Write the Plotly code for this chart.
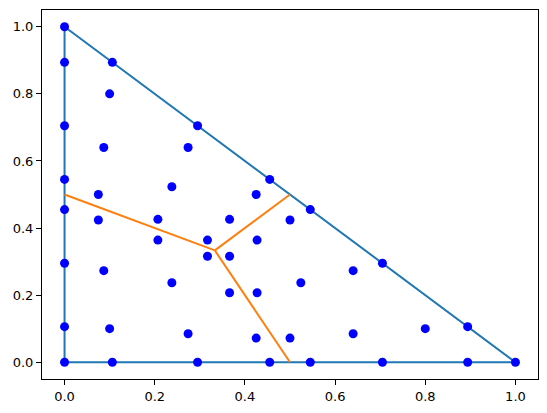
import plotly.graph_objects as go

# Triangle outline
tri_x = [0.0, 1.0, 0.0, 0.0]
tri_y = [0.0, 0.0, 1.0, 0.0]

# Orange partition lines (None separates segments)
part_x = [0.0, 0.3333, None, 0.3333, 0.5, None, 0.3333, 0.5]
part_y = [0.5, 0.3333, None, 0.3333, 0.5, None, 0.3333, 0.0]

# Nodes
pts_x = [
    0.0, 1.0, 0.0,
    0.106, 0.295, 0.455, 0.545, 0.705, 0.894,
    0.0, 0.0, 0.0, 0.0, 0.0, 0.0,
    0.894, 0.705, 0.545, 0.455, 0.295, 0.106,
    0.1, 0.1, 0.8,
    0.087, 0.087, 0.64, 0.64, 0.274, 0.274,
    0.075, 0.075, 0.5, 0.5, 0.425, 0.425,
    0.238, 0.238, 0.524,
    0.207, 0.207, 0.366, 0.366, 0.427, 0.427,
    0.317, 0.317, 0.366,
]
pts_y = [
    0.0, 0.0, 1.0,
    0.0, 0.0, 0.0, 0.0, 0.0, 0.0,
    0.106, 0.295, 0.455, 0.545, 0.705, 0.894,
    0.106, 0.295, 0.455, 0.545, 0.705, 0.894,
    0.8, 0.1, 0.1,
    0.64, 0.273, 0.085, 0.273, 0.085, 0.64,
    0.5, 0.424, 0.072, 0.424, 0.072, 0.5,
    0.523, 0.237, 0.237,
    0.426, 0.364, 0.207, 0.426, 0.207, 0.364,
    0.364, 0.316, 0.316,
]

fig = go.Figure()
fig.add_trace(go.Scatter(x=tri_x, y=tri_y, mode="lines",
                         line=dict(color="#1f77b4", width=2), hoverinfo="skip"))
fig.add_trace(go.Scatter(x=part_x, y=part_y, mode="lines",
                         line=dict(color="#ff7f0e", width=2), hoverinfo="skip"))
fig.add_trace(go.Scatter(x=pts_x, y=pts_y, mode="markers",
                         marker=dict(color="#0000ff", size=9, line=dict(width=0))))

axis_common = dict(
    range=[-0.05, 1.05], tick0=0, dtick=0.2, tickformat=".1f",
    showgrid=False, zeroline=False, showline=True, mirror=True,
    linecolor="black", linewidth=1, ticks="outside", ticklen=5,
    tickwidth=1, tickcolor="black",
    tickfont=dict(family="DejaVu Sans", size=13, color="black"),
)
fig.update_xaxes(**axis_common)
fig.update_yaxes(**axis_common)
fig.update_layout(
    width=547, height=413, showlegend=False,
    margin=dict(l=42, r=9, t=10, b=34),
    plot_bgcolor="white", paper_bgcolor="white",
)
fig.write_html("out.html")
